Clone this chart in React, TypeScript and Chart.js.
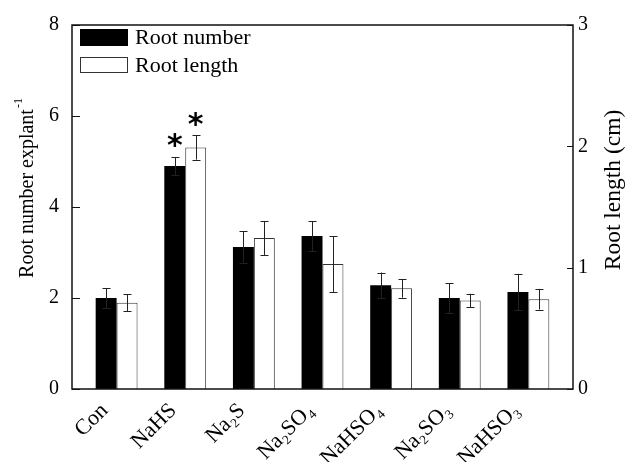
import React, { useEffect, useRef } from 'react';
import { Chart, registerables } from 'chart.js';

Chart.register(...registerables);

const categories = ['Con', 'NaHS', 'Na₂S', 'Na₂SO₄', 'NaHSO₄', 'Na₂SO₃', 'NaHSO₃'];
const rootNumber = [2.0, 4.9, 3.12, 3.36, 2.28, 2.0, 2.13];
const rootNumberErr = [0.22, 0.2, 0.35, 0.33, 0.28, 0.33, 0.4];
const rootLength = [0.71, 1.99, 1.245, 1.03, 0.83, 0.73, 0.74];
const rootLengthErr = [0.07, 0.1, 0.14, 0.23, 0.077, 0.055, 0.085];
const numberSignificant = [false, true, false, false, false, false, false];
const lengthSignificant = [false, true, false, false, false, false, false];
const leftTicks = [0, 2, 4, 6, 8];
const rightTicks = [0, 1, 2, 3];
const seriesNames = ['Root number', 'Root length'];
const leftTitle = 'Root number explant';
const leftTitleSup = '-1';
const rightTitle = 'Root length (cm)';

const FONT = "'Liberation Serif', 'Times New Roman', serif";
const INK = '#111';

const decorPlugin = {
  id: 'decor',
  afterDatasetsDraw(chart: any) {
    const ctx = chart.ctx;
    const errs = [rootNumberErr, rootLengthErr];
    const vals = [rootNumber, rootLength];
    const sigs = [numberSignificant, lengthSignificant];
    const axes = ['y', 'y1'];
    ctx.save();
    for (let d = 0; d < 2; d++) {
      const meta = chart.getDatasetMeta(d);
      const ys = chart.scales[axes[d]];
      meta.data.forEach((el: any, i: number) => {
        const x = Math.round(el.x) + 0.5;
        const top = ys.getPixelForValue(vals[d][i] + errs[d][i]);
        const bot = ys.getPixelForValue(vals[d][i] - errs[d][i]);
        ctx.strokeStyle = '#222';
        ctx.lineWidth = 1;
        ctx.beginPath();
        ctx.moveTo(x, top);
        ctx.lineTo(x, bot);
        ctx.moveTo(x - 4, Math.round(top) + 0.5);
        ctx.lineTo(x + 4, Math.round(top) + 0.5);
        ctx.moveTo(x - 4, Math.round(bot) + 0.5);
        ctx.lineTo(x + 4, Math.round(bot) + 0.5);
        ctx.stroke();
        if (sigs[d][i]) {
          ctx.fillStyle = '#000';
          ctx.font = "bold 30px 'DejaVu Sans', sans-serif";
          ctx.textAlign = 'center';
          ctx.textBaseline = 'alphabetic';
          const m = ctx.measureText('*');
          const cy = top - 16;
          ctx.fillText('*', el.x, cy + (m.actualBoundingBoxAscent - m.actualBoundingBoxDescent) / 2);
        }
      });
    }
    ctx.restore();
  },
  afterDraw(chart: any) {
    const ctx = chart.ctx;
    const a = chart.chartArea;
    ctx.save();
    // frame
    ctx.strokeStyle = INK;
    ctx.lineWidth = 1.5;
    ctx.strokeRect(a.left, a.top, a.right - a.left, a.bottom - a.top);
    // inward ticks
    ctx.lineWidth = 1;
    ctx.beginPath();
    leftTicks.forEach((v) => {
      const y = Math.round(chart.scales.y.getPixelForValue(v)) + 0.5;
      ctx.moveTo(a.left, y);
      ctx.lineTo(a.left + 8, y);
    });
    rightTicks.forEach((v) => {
      const y = Math.round(chart.scales.y1.getPixelForValue(v)) + 0.5;
      ctx.moveTo(a.right, y);
      ctx.lineTo(a.right - 6, y);
    });
    ctx.stroke();
    // legend
    ctx.lineWidth = 1;
    ctx.fillStyle = '#000';
    ctx.fillRect(80, 29, 48, 17);
    ctx.strokeStyle = '#000';
    ctx.strokeRect(80.5, 29.5, 47, 16);
    ctx.fillStyle = '#fff';
    ctx.fillRect(80, 57, 48, 16);
    ctx.strokeStyle = '#333';
    ctx.strokeRect(80.5, 57.5, 47, 15);
    ctx.fillStyle = '#000';
    ctx.font = `22px ${FONT}`;
    ctx.textAlign = 'left';
    ctx.textBaseline = 'middle';
    ctx.fillText(seriesNames[0], 135, 38);
    ctx.fillText(seriesNames[1], 135, 66);
    // left title
    ctx.save();
    ctx.translate(28, 188);
    ctx.rotate(-Math.PI / 2);
    ctx.font = `20px ${FONT}`;
    const w1 = ctx.measureText(leftTitle).width;
    ctx.font = `12px ${FONT}`;
    const w2 = ctx.measureText(leftTitleSup).width;
    const start = -(w1 + w2 + 1) / 2;
    ctx.font = `20px ${FONT}`;
    ctx.textAlign = 'left';
    ctx.textBaseline = 'middle';
    ctx.fillText(leftTitle, start, 0);
    ctx.font = `12px ${FONT}`;
    ctx.fillText(leftTitleSup, start + w1 + 1, -9);
    ctx.restore();
    // right title
    ctx.save();
    ctx.translate(614, 190);
    ctx.rotate(-Math.PI / 2);
    ctx.font = `23.5px ${FONT}`;
    ctx.textAlign = 'center';
    ctx.textBaseline = 'middle';
    ctx.fillText(rightTitle, 0, 0);
    ctx.restore();
    ctx.restore();
  },
};

export default function App() {
  const ref = useRef<HTMLCanvasElement | null>(null);
  useEffect(() => {
    if (!ref.current) return;
    const chart = new Chart(ref.current, {
      type: 'bar',
      data: {
        datasets: [
          {
            label: seriesNames[0],
            data: categories.map((_, i) => ({ x: i, y: rootNumber[i] })) as any,
            yAxisID: 'y',
            backgroundColor: '#000',
            borderColor: '#000',
            borderWidth: 0,
            categoryPercentage: 0.61,
            barPercentage: 1,
          },
          {
            label: seriesNames[1],
            data: categories.map((_, i) => ({ x: i, y: rootLength[i] })) as any,
            yAxisID: 'y1',
            backgroundColor: '#fff',
            borderColor: '#333',
            borderWidth: 1,
            categoryPercentage: 0.61,
            barPercentage: 1,
          },
        ],
      },
      options: {
        animation: false,
        responsive: false,
        maintainAspectRatio: false,
        layout: { padding: { top: 20, left: 0, right: 0, bottom: 0 } },
        plugins: { legend: { display: false }, tooltip: { enabled: false } },
        scales: {
          x: {
            type: 'linear',
            min: -0.65,
            max: 6.65,
            offset: false,
            grid: { display: false, drawTicks: false },
            border: { display: false },
            afterBuildTicks: (s: any) => {
              s.ticks = categories.map((_, i) => ({ value: i }));
            },
            afterFit: (s: any) => {
              s.height = 73;
            },
            ticks: {
              autoSkip: false,
              maxRotation: 45,
              minRotation: 45,
              padding: 9,
              labelOffset: -12,
              color: '#000',
              font: { family: FONT, size: 22 },
              callback: (v: any) => categories[v] ?? '',
            },
          },
          y: {
            position: 'left',
            min: 0,
            max: 8,
            grid: { display: false, drawTicks: false },
            border: { display: false },
            afterBuildTicks: (s: any) => {
              s.ticks = leftTicks.map((v) => ({ value: v }));
            },
            afterFit: (s: any) => {
              s.width = 72;
            },
            ticks: { padding: 13, color: '#000', font: { family: FONT, size: 20 } },
          },
          y1: {
            position: 'right',
            min: 0,
            max: 3,
            grid: { display: false, drawTicks: false },
            border: { display: false },
            afterBuildTicks: (s: any) => {
              s.ticks = rightTicks.map((v) => ({ value: v }));
            },
            afterFit: (s: any) => {
              s.width = 54;
            },
            ticks: { padding: 5, color: '#000', font: { family: FONT, size: 20 } },
          },
        },
      },
      plugins: [decorPlugin],
    } as any);
    return () => chart.destroy();
  }, []);
  return (
    <div style={{ position: 'fixed', left: 0, top: 0, width: 627, height: 462, background: '#fff' }}>
      <canvas ref={ref} width={627} height={462} />
    </div>
  );
}
